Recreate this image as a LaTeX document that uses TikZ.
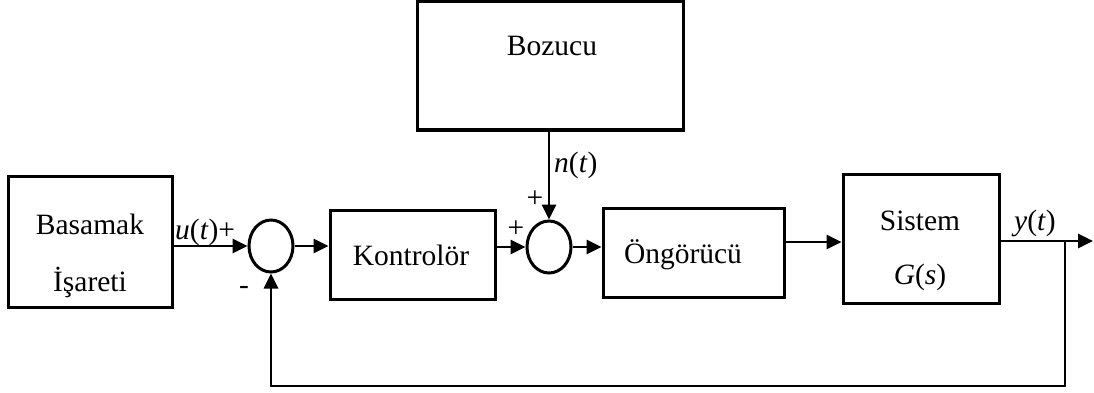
\documentclass[tikz,border=0pt]{standalone}
\usepackage{fontspec}
\setmainfont{Liberation Serif}
\usetikzlibrary{arrows.meta,shapes.geometric}
\begin{document}
\begin{tikzpicture}[x=1pt,y=-1pt,
  blk/.style={draw,line width=3pt,rectangle,inner sep=0pt},
  sumnode/.style={draw,line width=3pt,ellipse,inner sep=0pt,minimum width=44pt,minimum height=52pt},
  lbl/.style={font=\fontsize{29.5}{35}\selectfont,inner sep=0pt,anchor=base},
  wire/.style={line width=2.8pt},
  arr/.style={wire,-{Triangle[length=15pt,width=14pt]}}]
\useasboundingbox (0,0) rectangle (1094,393);

% blocks
\node[blk,minimum width=164pt,minimum height=131pt] (basamak) at (90,241.5) {};
\node[blk,minimum width=266pt,minimum height=128pt] (bozucu) at (550,66) {};
\node[blk,minimum width=165pt,minimum height=89pt] (kontrol) at (412.5,254.5) {};
\node[blk,minimum width=181pt,minimum height=89pt] (ongoru) at (693.5,252.5) {};
\node[blk,minimum width=156pt,minimum height=129pt] (sistem) at (921,238.5) {};

% summing junctions
\node[sumnode] (s1) at (271,246) {};
\node[sumnode] (s2) at (549,247) {};

% block texts
\node[lbl] (t1) at (90,234) {Basamak};
\node[lbl] (t2) at (90,291) {İşareti};
\node[lbl] (t3) at (552,56) {Bozucu};
\node[lbl] (t4) at (411,265) {Kontrolör};
\node[lbl] (t5) at (683,263) {Öngörücü};
\node[lbl] (t6) at (920,230) {Sistem};
\node[lbl] (t7) at (920,284) {\textit{G}(\textit{s})};

% signal labels and signs
\node[lbl,anchor=base west] (lu) at (175,239) {\textit{u}(\textit{t})+};
\node[lbl] (lminus) at (244,294) {-};
\node[lbl,anchor=base west] (ln) at (554,172) {\textit{n}(\textit{t})};
\node[lbl] (lp1) at (535,207) {+};
\node[lbl] (lp2) at (516,237) {+};
\node[lbl] (ly) at (1035,230) {\textit{y}(\textit{t})};

% connection points
\coordinate (branch) at (1065,241);
\coordinate (out) at (1093,241);
\coordinate (fb) at (1065,386);

% connectors
\draw[arr] (basamak.east |- s1.west) -- (s1.west);
\draw[arr] (s1.east) -- (s1.east -| kontrol.west);
\draw[arr] (kontrol.east |- s2.west) -- (s2.west);
\draw[arr] (s2.east) -- (s2.east -| ongoru.west);
\draw[arr] (ongoru.east |- 0,242) -- (sistem.west |- 0,242);
\draw[arr] (s2.north |- bozucu.south) -- (s2.north);
\draw[arr] (sistem.east |- branch) -- (out);
\draw[arr] (branch) -- (fb) -| (s1.south);
\end{tikzpicture}
\end{document}
